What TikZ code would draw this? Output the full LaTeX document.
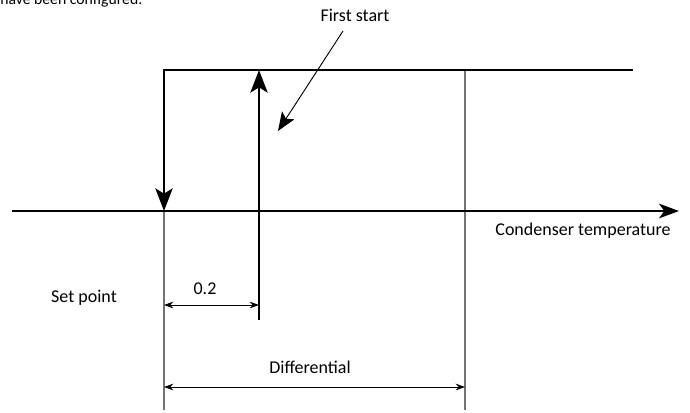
\documentclass[tikz,border=0pt]{standalone}
\usepackage{fontspec}
\setmainfont{Carlito}
\usetikzlibrary{arrows.meta}
\begin{document}
\begin{tikzpicture}[x=0.75pt,y=-0.75pt,
  lbl/.style={inner sep=0pt,font=\fontsize{13.5}{16}\selectfont},
  thickline/.style={line width=1.5pt},
  guide/.style={line width=0.8pt,draw=black!55},
  bigtip/.style={-{Stealth[length=17pt,width=13pt,inset=4pt]}},
  axistip/.style={-{Stealth[length=15pt,width=11pt,inset=4pt]}},
  dimarrow/.style={line width=0.7pt,{Stealth[length=7pt,width=5pt]}-{Stealth[length=7pt,width=5pt]}}]
\useasboundingbox (0,0) rectangle (690,412);
% coordinates
\coordinate (axL) at (12,211);
\coordinate (axR) at (679,211);
\coordinate (spT) at (164,70);
\coordinate (spA) at (164,211);
\coordinate (spB) at (164,410);
\coordinate (topR) at (633,70);
\coordinate (fsT) at (259,70);
\coordinate (fsB) at (259,320);
\coordinate (dfT) at (465,70);
\coordinate (dfB) at (465,410);
\coordinate (d1L) at (164,305);
\coordinate (d1R) at (259,305);
\coordinate (d2L) at (164,387);
\coordinate (d2R) at (465,387);
\coordinate (fsS) at (343,31);
\coordinate (fsTip) at (278,131);
% labels
\node[lbl,font=\fontsize{11.8}{14}\selectfont,anchor=base west] (cfg) at (0,4) {have been configured.};
\node[lbl] (first) at (355,15) {First start};
\node[lbl] (cond) at (583,231) {Condenser temperature};
\node[lbl] (setp) at (84,298) {Set point};
\node[lbl] (p2) at (205,289) {0.2};
\node[lbl] (diff) at (310,367) {Differential};
% guides
\draw[guide] (spA) -- (spB);
\draw[guide] (dfT) -- (dfB);
% axis
\draw[thickline,axistip] (axL) -- (axR);
% hysteresis
\draw[thickline,bigtip] (topR) -- (spT) -- (spA);
\draw[thickline,bigtip] (fsB) -- (fsT);
% first start pointer
\draw[line width=0.7pt,-{Stealth[length=14pt,width=11pt,inset=3pt]}] (fsS) -- (fsTip);
% dimensions
\draw[dimarrow] (d1L) -- (d1R);
\draw[dimarrow] (d2L) -- (d2R);
\end{tikzpicture}
\end{document}
